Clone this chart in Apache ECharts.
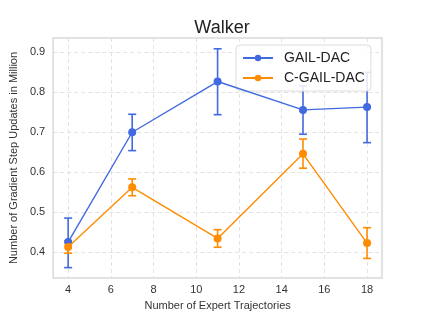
<!DOCTYPE html>
<html>
<head>
<meta charset="utf-8">
<script src="https://cdn.jsdelivr.net/npm/echarts@6/dist/echarts.min.js"></script>
<style>html,body{margin:0;padding:0;background:#fff}#c{width:424px;height:318px}</style>
</head>
<body>
<div id="c"></div>
<script>
const trajectories = [4, 7, 11, 15, 18];
const gailMean = [0.425, 0.700, 0.827, 0.756, 0.763];
const gailLow = [0.361, 0.654, 0.744, 0.695, 0.674];
const gailHigh = [0.485, 0.745, 0.909, 0.816, 0.850];
const cgailMean = [0.4125, 0.562, 0.434, 0.646, 0.4225];
const cgailLow = [0.397, 0.541, 0.412, 0.610, 0.384];
const cgailHigh = [0.428, 0.583, 0.456, 0.683, 0.461];
const xTicks = [4, 6, 8, 10, 12, 14, 16, 18];
const yTicks = [0.4, 0.5, 0.6, 0.7, 0.8, 0.9];

const BLUE = '#4169E1', ORANGE = '#FF8C00';
const FONT = 'Liberation Sans, Arial, sans-serif';

function errSeries(name, low, high, color) {
  return {
    name: name, type: 'custom', z: 3,
    data: trajectories.map((x, i) => [x, low[i], high[i]]),
    renderItem: function (params, api) {
      const x = api.value(0);
      const p1 = api.coord([x, api.value(1)]);
      const p2 = api.coord([x, api.value(2)]);
      const w = 4;
      const st = { stroke: color, lineWidth: 1.6 };
      return { type: 'group', children: [
        { type: 'line', shape: { x1: p1[0], y1: p1[1], x2: p2[0], y2: p2[1] }, style: st },
        { type: 'line', shape: { x1: p1[0] - w, y1: p1[1], x2: p1[0] + w, y2: p1[1] }, style: st },
        { type: 'line', shape: { x1: p2[0] - w, y1: p2[1], x2: p2[0] + w, y2: p2[1] }, style: st }
      ]};
    },
    silent: true
  };
}

const chart = echarts.init(document.getElementById('c'), null, { renderer: 'canvas' });
chart.setOption({
  animation: false,
  backgroundColor: '#fff',
  title: {
    text: 'Walker', left: 217, top: 14, textAlign: 'center',
    textStyle: { fontFamily: FONT, fontSize: 18, fontWeight: 'normal', color: '#222' }
  },
  grid: {
    left: 53, right: 42, top: 38, bottom: 40,
    show: true, borderColor: '#d9d9d9', borderWidth: 1.5, backgroundColor: '#fff'
  },
  legend: {
    orient: 'vertical', left: 236, top: 45,
    data: ['GAIL-DAC', 'C-GAIL-DAC'],
    itemWidth: 30, itemHeight: 8, itemGap: 6,
    padding: [6, 6, 6, 6],
    backgroundColor: 'rgba(255,255,255,0.85)',
    borderColor: '#dddddd', borderWidth: 1, borderRadius: 4,
    textStyle: { fontFamily: FONT, fontSize: 14, color: '#222', padding: [0, 0, 0, 6] }
  },
  xAxis: {
    type: 'value', min: 3.3, max: 18.7,
    name: 'Number of Expert Trajectories', nameLocation: 'middle', nameGap: 22,
    nameTextStyle: { fontFamily: FONT, fontSize: 11, color: '#333' },
    axisLine: { show: false },
    axisTick: { show: false, customValues: xTicks },
    axisLabel: { customValues: xTicks, fontFamily: FONT, fontSize: 11, color: '#333', margin: 6 },
    splitLine: { show: true, lineStyle: { color: '#e3e3e3', type: [4, 3], width: 1 } }
  },
  yAxis: {
    type: 'value', min: 0.335, max: 0.936,
    name: 'Number of Gradient Step Updates in Million', nameLocation: 'middle', nameGap: 31,
    nameTextStyle: { fontFamily: FONT, fontSize: 11, color: '#333' },
    axisLine: { show: false },
    axisTick: { show: false, customValues: yTicks },
    axisLabel: { customValues: yTicks, fontFamily: FONT, fontSize: 11, color: '#333', margin: 8,
      formatter: v => v.toFixed(1) },
    splitLine: { show: true, lineStyle: { color: '#e3e3e3', type: [4, 3], width: 1 } }
  },
  series: [
    errSeries('GAIL-DAC error', gailLow, gailHigh, BLUE),
    {
      name: 'GAIL-DAC', type: 'line', z: 4,
      data: trajectories.map((x, i) => [x, gailMean[i]]),
      symbol: 'circle', symbolSize: 8,
      lineStyle: { color: BLUE, width: 1.4 }, itemStyle: { color: BLUE }
    },
    errSeries('C-GAIL-DAC error', cgailLow, cgailHigh, ORANGE),
    {
      name: 'C-GAIL-DAC', type: 'line', z: 6,
      data: trajectories.map((x, i) => [x, cgailMean[i]]),
      symbol: 'circle', symbolSize: 8,
      lineStyle: { color: ORANGE, width: 1.4 }, itemStyle: { color: ORANGE }
    }
  ]
});
</script>
</body>
</html>
